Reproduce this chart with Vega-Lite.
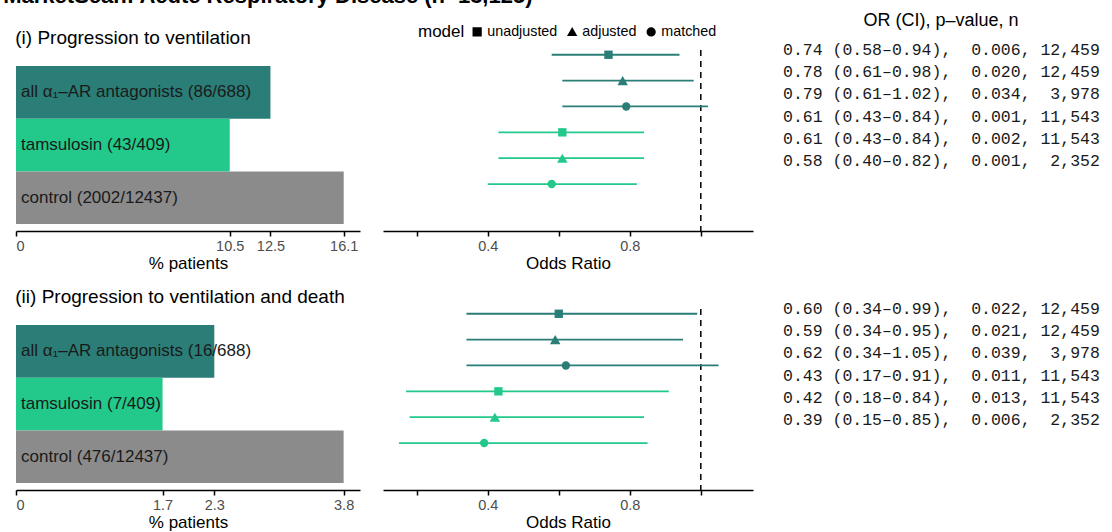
{
  "$schema": "https://vega.github.io/schema/vega-lite/v6.json",
  "padding": {"left": 3, "top": -15, "right": 4, "bottom": 4},
  "title": {"text": "MarketScan: Acute Respiratory Disease (n=13,125)", "anchor": "start", "fontSize": 22, "fontWeight": "bold", "dx": -12, "offset": 4, "color": "black"},
  "config": {
    "font": "Liberation Sans",
    "view": {"stroke": null},
    "axis": {"domainColor": "black", "domainWidth": 1.5, "tickColor": "black", "tickWidth": 1.5, "tickSize": 5, "labelFontSize": 14.5, "labelColor": "#4d4d4d", "titleFontSize": 17, "titleFontWeight": "normal", "titleColor": "black", "grid": false, "labelPadding": 3, "titlePadding": 3},
    "title": {"fontWeight": "normal", "color": "black"},
    "legend": {"labelColor": "black", "titleColor": "black"}
  },
  "datasets": {
    "bars": [
      {"outcome": "vent", "group": "all", "label": "all α₁–AR antagonists (86/688)", "pct": 12.5},
      {"outcome": "vent", "group": "tamsulosin", "label": "tamsulosin (43/409)", "pct": 10.5},
      {"outcome": "vent", "group": "control", "label": "control (2002/12437)", "pct": 16.1},
      {"outcome": "death", "group": "all", "label": "all α₁–AR antagonists (16/688)", "pct": 2.3},
      {"outcome": "death", "group": "tamsulosin", "label": "tamsulosin (7/409)", "pct": 1.7},
      {"outcome": "death", "group": "control", "label": "control (476/12437)", "pct": 3.8}
    ],
    "or": [
      {"outcome": "vent", "group": "all", "model": "unadjusted", "key": "a_unadj", "or": 0.74, "lo": 0.58, "hi": 0.94, "text": "0.74\u00a0(0.58–0.94),\u00a0\u00a00.006,\u00a012,459"},
      {"outcome": "vent", "group": "all", "model": "adjusted", "key": "a_adj", "or": 0.78, "lo": 0.61, "hi": 0.98, "text": "0.78\u00a0(0.61–0.98),\u00a0\u00a00.020,\u00a012,459"},
      {"outcome": "vent", "group": "all", "model": "matched", "key": "a_match", "or": 0.79, "lo": 0.61, "hi": 1.02, "text": "0.79\u00a0(0.61–1.02),\u00a0\u00a00.034,\u00a0\u00a03,978"},
      {"outcome": "vent", "group": "tamsulosin", "model": "unadjusted", "key": "t_unadj", "or": 0.61, "lo": 0.43, "hi": 0.84, "text": "0.61\u00a0(0.43–0.84),\u00a0\u00a00.001,\u00a011,543"},
      {"outcome": "vent", "group": "tamsulosin", "model": "adjusted", "key": "t_adj", "or": 0.61, "lo": 0.43, "hi": 0.84, "text": "0.61\u00a0(0.43–0.84),\u00a0\u00a00.002,\u00a011,543"},
      {"outcome": "vent", "group": "tamsulosin", "model": "matched", "key": "t_match", "or": 0.58, "lo": 0.40, "hi": 0.82, "text": "0.58\u00a0(0.40–0.82),\u00a0\u00a00.001,\u00a0\u00a02,352"},
      {"outcome": "death", "group": "all", "model": "unadjusted", "key": "a_unadj", "or": 0.60, "lo": 0.34, "hi": 0.99, "text": "0.60\u00a0(0.34–0.99),\u00a0\u00a00.022,\u00a012,459"},
      {"outcome": "death", "group": "all", "model": "adjusted", "key": "a_adj", "or": 0.59, "lo": 0.34, "hi": 0.95, "text": "0.59\u00a0(0.34–0.95),\u00a0\u00a00.021,\u00a012,459"},
      {"outcome": "death", "group": "all", "model": "matched", "key": "a_match", "or": 0.62, "lo": 0.34, "hi": 1.05, "text": "0.62\u00a0(0.34–1.05),\u00a0\u00a00.039,\u00a0\u00a03,978"},
      {"outcome": "death", "group": "tamsulosin", "model": "unadjusted", "key": "t_unadj", "or": 0.43, "lo": 0.17, "hi": 0.91, "text": "0.43\u00a0(0.17–0.91),\u00a0\u00a00.011,\u00a011,543"},
      {"outcome": "death", "group": "tamsulosin", "model": "adjusted", "key": "t_adj", "or": 0.42, "lo": 0.18, "hi": 0.84, "text": "0.42\u00a0(0.18–0.84),\u00a0\u00a00.013,\u00a011,543"},
      {"outcome": "death", "group": "tamsulosin", "model": "matched", "key": "t_match", "or": 0.39, "lo": 0.15, "hi": 0.85, "text": "0.39\u00a0(0.15–0.85),\u00a0\u00a00.006,\u00a0\u00a02,352"}
    ],
    "ref": [{"one": 1}]
  },
  "spacing": 16,
  "resolve": {"scale": {"shape": "independent"}, "legend": {"shape": "independent"}},
  "vconcat": [
    {
      "bounds": "flush",
      "spacing": 23,
      "resolve": {"scale": {"shape": "independent"}, "legend": {"shape": "independent"}},
      "hconcat": [
        {
          "width": 344, "height": 181,
          "title": {"text": "(i) Progression to ventilation", "anchor": "start", "fontSize": 19, "offset": 2},
          "data": {"name": "bars"},
          "transform": [{"filter": "datum.outcome === 'vent'"}],
          "encoding": {
            "y": {"field": "group", "type": "nominal", "scale": {"domain": ["all", "tamsulosin", "control"], "paddingInner": 0, "paddingOuter": 0.2175, "align": 0.7}, "axis": null}
          },
          "layer": [
            {"mark": {"type": "bar"},
             "encoding": {
               "x": {"field": "pct", "type": "quantitative", "scale": {"domain": [0, 16.9], "nice": false, "zero": true}, "axis": {"values": [0, 10.5, 12.5, 16.1], "labelExpr": "'' + datum.value", "title": "% patients"}},
               "color": {"field": "group", "type": "nominal", "scale": {"domain": ["all", "tamsulosin", "control"], "range": ["#2A7E77", "#22C98B", "#8B8B8B"]}, "legend": null}
             }},
            {"mark": {"type": "text", "align": "left", "baseline": "middle", "dx": 5, "fontSize": 17, "color": "#1a1a1a"},
             "encoding": {"x": {"datum": 0, "type": "quantitative"}, "text": {"field": "label"}}}
          ]
        },
        {
          "width": 370, "height": 181,
          "layer": [
            {"data": {"name": "ref"},
             "mark": {"type": "rule", "strokeDash": [6, 5], "color": "black", "strokeWidth": 1.5},
             "encoding": {"x": {"datum": 1, "type": "quantitative"}}},
            {"data": {"name": "or"},
             "transform": [{"filter": "datum.outcome === 'vent'"}],
             "mark": {"type": "rule", "strokeWidth": 1.8},
             "encoding": {
               "x": {"field": "lo", "type": "quantitative", "scale": {"domain": [0.105, 1.147], "nice": false, "zero": false}, "axis": {"values": [0.2, 0.4, 0.6, 0.8, 1.0], "format": ".1f", "labelExpr": "datum.value == 0.4 || datum.value == 0.8 ? datum.label : ''", "title": "Odds Ratio"}},
               "x2": {"field": "hi"},
               "y": {"field": "key", "type": "nominal", "scale": {"type": "point", "domain": ["a_unadj", "a_adj", "a_match", "t_unadj", "t_adj", "t_match"], "padding": 1.81, "align": 0.092}, "axis": null},
               "color": {"field": "group", "type": "nominal", "legend": null}
             }},
            {"data": {"name": "or"},
             "transform": [{"filter": "datum.outcome === 'vent'"}],
             "mark": {"type": "point", "filled": true, "opacity": 1},
             "encoding": {
               "x": {"field": "or", "type": "quantitative"},
               "y": {"field": "key", "type": "nominal"},
               "color": {"field": "group", "type": "nominal", "legend": null},
               "size": {"condition": {"test": "datum.model === 'adjusted'", "value": 110}, "value": 70},
               "shape": {"field": "model", "type": "nominal", "scale": {"domain": ["unadjusted", "adjusted", "matched"], "range": ["square", "triangle-up", "circle"]},
                 "legend": {"orient": "none", "legendX": 35, "legendY": -25.5, "direction": "horizontal", "titleOrient": "left", "title": "model", "titleFontSize": 17, "titleFontWeight": "normal", "titlePadding": 5, "labelFontSize": 14.3, "labelOffset": 3, "columnPadding": 7, "symbolSize": 60, "symbolFillColor": "black", "symbolStrokeColor": "black"}}
             }}
          ]
        },
        {
          "width": 330, "height": 111,
          "title": {"text": "OR (CI), p–value, n", "anchor": "middle", "fontSize": 18, "offset": 12},
          "data": {"name": "or"},
          "transform": [{"filter": "datum.outcome === 'vent'"}],
          "mark": {"type": "text", "align": "left", "baseline": "middle", "font": "Liberation Mono", "fontSize": 16.5, "dx": 7, "color": "#1a1a1a"},
          "encoding": {
            "x": {"datum": 0, "type": "quantitative", "scale": {"domain": [0, 1]}, "axis": null},
            "y": {"field": "key", "type": "nominal", "scale": {"type": "point", "domain": ["a_unadj", "a_adj", "a_match", "t_unadj", "t_adj", "t_match"], "padding": 0}, "axis": null},
            "text": {"field": "text"}
          }
        }
      ]
    },
    {
      "bounds": "flush",
      "spacing": 23,
      "resolve": {"scale": {"shape": "independent"}, "legend": {"shape": "independent"}},
      "hconcat": [
        {
          "width": 344, "height": 181,
          "title": {"text": "(ii) Progression to ventilation and death", "anchor": "start", "fontSize": 19, "offset": 2},
          "data": {"name": "bars"},
          "transform": [{"filter": "datum.outcome === 'death'"}],
          "encoding": {
            "y": {"field": "group", "type": "nominal", "scale": {"domain": ["all", "tamsulosin", "control"], "paddingInner": 0, "paddingOuter": 0.2175, "align": 0.7}, "axis": null}
          },
          "layer": [
            {"mark": {"type": "bar"},
             "encoding": {
               "x": {"field": "pct", "type": "quantitative", "scale": {"domain": [0, 3.99], "nice": false, "zero": true}, "axis": {"values": [0, 1.7, 2.3, 3.8], "labelExpr": "'' + datum.value", "title": "% patients"}},
               "color": {"field": "group", "type": "nominal", "legend": null}
             }},
            {"mark": {"type": "text", "align": "left", "baseline": "middle", "dx": 5, "fontSize": 17, "color": "#1a1a1a"},
             "encoding": {"x": {"datum": 0, "type": "quantitative"}, "text": {"field": "label"}}}
          ]
        },
        {
          "width": 370, "height": 181,
          "layer": [
            {"data": {"name": "ref"},
             "mark": {"type": "rule", "strokeDash": [6, 5], "color": "black", "strokeWidth": 1.5},
             "encoding": {"x": {"datum": 1, "type": "quantitative"}}},
            {"data": {"name": "or"},
             "transform": [{"filter": "datum.outcome === 'death'"}],
             "mark": {"type": "rule", "strokeWidth": 1.8},
             "encoding": {
               "x": {"field": "lo", "type": "quantitative", "scale": {"domain": [0.105, 1.147], "nice": false, "zero": false}, "axis": {"values": [0.2, 0.4, 0.6, 0.8, 1.0], "format": ".1f", "labelExpr": "datum.value == 0.4 || datum.value == 0.8 ? datum.label : ''", "title": "Odds Ratio"}},
               "x2": {"field": "hi"},
               "y": {"field": "key", "type": "nominal", "scale": {"type": "point", "domain": ["a_unadj", "a_adj", "a_match", "t_unadj", "t_adj", "t_match"], "padding": 1.81, "align": 0.092}, "axis": null},
               "color": {"field": "group", "type": "nominal", "legend": null}
             }},
            {"data": {"name": "or"},
             "transform": [{"filter": "datum.outcome === 'death'"}],
             "mark": {"type": "point", "filled": true, "opacity": 1},
             "encoding": {
               "x": {"field": "or", "type": "quantitative"},
               "y": {"field": "key", "type": "nominal"},
               "color": {"field": "group", "type": "nominal", "legend": null},
               "size": {"condition": {"test": "datum.model === 'adjusted'", "value": 110}, "value": 70},
               "shape": {"field": "model", "type": "nominal", "scale": {"domain": ["unadjusted", "adjusted", "matched"], "range": ["square", "triangle-up", "circle"]}, "legend": null}
             }}
          ]
        },
        {
          "width": 330, "height": 111,
          "data": {"name": "or"},
          "transform": [{"filter": "datum.outcome === 'death'"}],
          "mark": {"type": "text", "align": "left", "baseline": "middle", "font": "Liberation Mono", "fontSize": 16.5, "dx": 7, "color": "#1a1a1a"},
          "encoding": {
            "x": {"datum": 0, "type": "quantitative", "scale": {"domain": [0, 1]}, "axis": null},
            "y": {"field": "key", "type": "nominal", "scale": {"type": "point", "domain": ["a_unadj", "a_adj", "a_match", "t_unadj", "t_adj", "t_match"], "padding": 0}, "axis": null},
            "text": {"field": "text"}
          }
        }
      ]
    }
  ]
}
